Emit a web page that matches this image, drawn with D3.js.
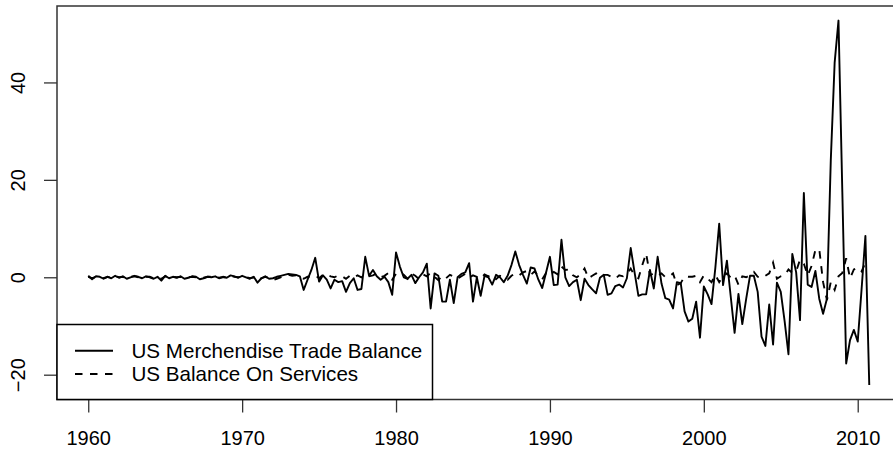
<!DOCTYPE html>
<html>
<head>
<meta charset="utf-8">
<script src="https://cdn.jsdelivr.net/npm/d3@7"></script>
<style>
  body { margin: 0; background: #fff; }
  svg { display: block; }
  text { font-family: "Liberation Sans", Arial, Helvetica, sans-serif; }
</style>
</head>
<body>
<div class="chart"></div>
<script>
// Quarterly series, first quarter 1960, last quarter 2010 (4 values per year)
var startYear = 1960;

var merchandise = [
  0.3, -0.4, 0.2, 0.1,     // 1960
  -0.3, 0.1, -0.2, 0.3,    // 1961
  -0.1, 0.2, -0.3, 0.0,    // 1962
  0.3, 0.1, -0.2, 0.2,     // 1963
  0.0, -0.3, 0.1, -0.7,    // 1964
  0.3, -0.2, 0.1, -0.1,    // 1965
  0.2, -0.3, -0.1, 0.2,    // 1966
  0.1, -0.4, -0.2, 0.1,    // 1967
  0.0, 0.2, -0.2, 0.1,     // 1968
  -0.1, 0.4, 0.2, -0.1,    // 1969
  0.3, 0.0, -0.3, 0.1,     // 1970
  -1.1, -0.2, 0.2, -0.3,   // 1971
  -0.2, 0.1, 0.3, 0.5,     // 1972
  0.7, 0.6, 0.5, 0.2,      // 1973
  -2.6, -0.5, 1.5, 4.0,    // 1974
  -0.9, 0.4, -0.5, -2.3,   // 1975
  -0.5, -1.0, -0.8, -3.0,  // 1976
  -1.2, -0.2, -2.6, -2.4,  // 1977
  4.2, 0.3, 1.5, 0.2,      // 1978
  -0.5, 0.1, -1.0, -3.6,   // 1979
  5.1, 2.2, 0.0, -0.3,     // 1980
  0.5, -1.2, 0.0, 1.0,     // 1981
  2.8, -6.4, 0.8, 0.3,     // 1982
  -5.0, -5.0, -0.5, -5.3,  // 1983
  0.0, 0.7, 1.0, 2.9,      // 1984
  -5.0, 0.0, -3.8, 0.3,    // 1985
  0.0, -1.5, 0.5, 0.0,     // 1986
  -1.0, 0.3, 2.5, 5.3,     // 1987
  2.5, 0.5, -1.3, 2.0,     // 1988
  1.8, -0.5, -2.2, 1.0,    // 1989
  4.2, -1.6, -1.5, 7.7,    // 1990
  0.0, -1.8, -1.0, -0.5,   // 1991
  -4.7, -0.3, -1.6, -2.5,  // 1992
  -3.3, -0.1, 0.5, -3.6,   // 1993
  -3.3, -1.8, -1.5, -2.1,  // 1994
  -0.2, 6.0, 1.0, -3.8,    // 1995
  -3.5, -3.5, 1.5, -2.3,   // 1996
  4.2, -1.3, -4.3, -4.6,   // 1997
  -6.4, -1.0, -1.2, -7.0,  // 1998
  -9.1, -8.5, -5.0, -12.4, // 1999
  -1.9, -3.5, -5.5, 2.0,   // 2000
  11.0, -1.6, 3.4, -4.0,   // 2001
  -11.4, -3.4, -9.6, -4.5, // 2002
  0.3, 0.3, -3.0, -12.2,   // 2003
  -14.1, -5.6, -13.8, -1.1,// 2004
  -3.0, -9.0, -15.8, 4.8,  // 2005
  1.0, -8.8, 17.3, -1.5,   // 2006
  -2.0, 1.3, -4.4, -7.5,   // 2007
  -4.4, 24.0, 44.0, 52.7,  // 2008
  17.5, -17.7, -12.9, -10.8, // 2009
  -13.2, -2.5, 8.5, -22.1  // 2010
];

var services = [
  0.1, -0.2, 0.1, 0.0,     // 1960
  -0.2, 0.1, -0.1, 0.2,    // 1961
  0.0, 0.1, -0.2, 0.1,     // 1962
  0.2, 0.0, -0.1, 0.1,     // 1963
  0.1, -0.2, 0.0, -0.3,    // 1964
  0.2, -0.1, 0.1, 0.0,     // 1965
  0.1, -0.2, 0.0, 0.1,     // 1966
  0.0, -0.3, -0.1, 0.1,    // 1967
  0.1, 0.1, -0.1, 0.0,     // 1968
  0.0, 0.3, 0.1, 0.0,      // 1969
  0.2, 0.1, -0.2, 0.0,     // 1970
  -0.6, -0.2, 0.1, -0.2,   // 1971
  -0.6, -0.3, 0.0, 0.3,    // 1972
  0.5, 0.3, 0.4, 0.1,      // 1973
  -0.3, 0.1, 0.2, 0.4,     // 1974
  -0.2, 0.5, 0.6, 0.2,     // 1975
  0.0, 0.4, 0.2, -0.3,     // 1976
  0.3, -0.1, 0.4, 0.0,     // 1977
  0.6, 0.2, 0.4, 0.8,      // 1978
  0.0, 0.3, 0.9, -0.5,     // 1979
  0.7, 1.0, 0.5, -0.3,     // 1980
  0.8, 0.3, -0.4, 0.6,     // 1981
  0.2, 0.9, 0.1, -0.6,     // 1982
  0.3, -0.2, 0.5, 0.1,     // 1983
  -0.3, 0.2, 0.7, -0.1,    // 1984
  0.4, 0.1, -0.3, 0.6,     // 1985
  0.2, 0.5, -0.4, 0.3,     // 1986
  0.0, -0.5, 0.3, 0.8,     // 1987
  0.4, 1.0, 1.3, 0.5,      // 1988
  1.2, 0.3, -0.4, 0.9,     // 1989
  0.5, 1.1, 0.6, 2.2,      // 1990
  1.5, 1.6, 0.4, 0.0,      // 1991
  0.6, 1.8, -0.2, 0.3,     // 1992
  0.8, 0.2, 0.5, 0.5,      // 1993
  0.1, -0.3, 0.4, 0.2,     // 1994
  0.6, 1.8, 0.3, -0.2,     // 1995
  2.5, 4.9, 0.4, 0.8,      // 1996
  0.3, 0.8, 0.0, 0.2,      // 1997
  0.8, -1.6, -1.2, 0.2,    // 1998
  0.1, 0.1, 0.3, -1.0,     // 1999
  0.4, -0.3, -1.0, 0.5,    // 2000
  -1.0, 0.2, 0.8, -0.1,    // 2001
  0.4, -1.5, 0.2, 0.0,     // 2002
  0.4, 1.1, 0.1, -0.2,     // 2003
  0.3, 0.8, 3.0, -0.3,     // 2004
  0.2, 0.4, 1.6, 0.9,      // 2005
  1.2, 3.6, 2.8, 0.4,      // 2006
  2.3, 5.6, 5.8, -1.0,     // 2007
  -4.7, -1.0, -2.6, 0.2,   // 2008
  0.9, 3.9, -0.2, 1.6,     // 2009
  2.0, 1.2, 3.0, 3.0       // 2010
];

var xTicks = [1960, 1970, 1980, 1990, 2000, 2010];
var yTicks = [-20, 0, 20, 40];
var legendLabels = ["US Merchendise Trade Balance", "US Balance On Services"];

// SVG size and plot region (R style, box runs off the right edge)
var svgWidth = 893;
var svgHeight = 452;
var plot = {left: 57, right: 900.5, top: 6, bottom: 399.5};

var svg = d3.select(".chart")
  .append("svg")
  .attr("width", svgWidth)
  .attr("height", svgHeight);

function toPoints(values) {
  return values.map(function(v, i) { return {t: startYear + i / 4, v: v}; });
}
var mPoints = toPoints(merchandise);
var sPoints = toPoints(services);

// R pads the data range by 4% on each side
function padded(ext) {
  var d = (ext[1] - ext[0]) * 0.04;
  return [ext[0] - d, ext[1] + d];
}
var tExt = d3.extent(mPoints, function(d) { return d.t; });
var vExt = d3.extent(merchandise.concat(services));

var x = d3.scaleLinear().domain(padded(tExt)).range([plot.left, plot.right]);
var y = d3.scaleLinear().domain(padded(vExt)).range([plot.bottom, plot.top]);

var line = d3.line()
  .x(function(d) { return x(d.t); })
  .y(function(d) { return y(d.v); });

// series
svg.append("path")
  .datum(mPoints)
  .attr("d", line)
  .attr("fill", "none")
  .attr("stroke", "#000")
  .attr("stroke-width", 1.9)
  .attr("stroke-linejoin", "round");

svg.append("path")
  .datum(sPoints)
  .attr("d", line)
  .attr("fill", "none")
  .attr("stroke", "#000")
  .attr("stroke-width", 1.9)
  .attr("stroke-dasharray", "7.5,7.5");

// axes
var bottomAxis = d3.axisBottom(x).tickValues(xTicks).tickSize(13).tickPadding(18).tickFormat(d3.format("d"));
var leftAxis = d3.axisLeft(y).tickValues(yTicks).tickSize(13).tickPadding(0).tickFormat(function(d) { return d < 0 ? "\u2212" + Math.abs(d) : d; });

var gx = svg.append("g")
  .attr("transform", "translate(0," + plot.bottom + ")")
  .call(bottomAxis);
gx.select(".domain").remove();
gx.selectAll("line").attr("stroke", "#333").attr("stroke-width", 1.3);
gx.selectAll("text").attr("font-size", 20).attr("fill", "#000");

var gy = svg.append("g")
  .attr("transform", "translate(" + plot.left + ",0)")
  .call(leftAxis);
gy.select(".domain").remove();
gy.selectAll("line").attr("stroke", "#333").attr("stroke-width", 1.3);
gy.selectAll("text")
  .attr("font-size", 20)
  .attr("fill", "#000")
  .attr("x", null).attr("dy", null)
  .attr("text-anchor", "middle")
  .attr("transform", "translate(-32,0) rotate(-90)");

// plot box
svg.append("rect")
  .attr("x", plot.left)
  .attr("y", plot.top)
  .attr("width", plot.right - plot.left)
  .attr("height", plot.bottom - plot.top)
  .attr("fill", "none")
  .attr("stroke", "#333")
  .attr("stroke-width", 1.5);

// legend
var legend = svg.append("g");
legend.append("rect")
  .attr("x", plot.left)
  .attr("y", 324.5)
  .attr("width", 375.5)
  .attr("height", plot.bottom - 324.5)
  .attr("fill", "#fff")
  .attr("stroke", "#000")
  .attr("stroke-width", 1.5);

legendLabels.forEach(function(label, i) {
  var ly = 350.7 + i * 23.3;
  legend.append("line")
    .attr("x1", 75).attr("x2", 113)
    .attr("y1", ly).attr("y2", ly)
    .attr("stroke", "#000")
    .attr("stroke-width", 1.9)
    .attr("stroke-dasharray", i === 1 ? "7.5,7.5" : null);
  legend.append("text")
    .attr("x", 131.5)
    .attr("y", ly)
    .attr("dy", "0.35em")
    .attr("font-size", 20.6)
    .text(label);
});
</script>
</body>
</html>
